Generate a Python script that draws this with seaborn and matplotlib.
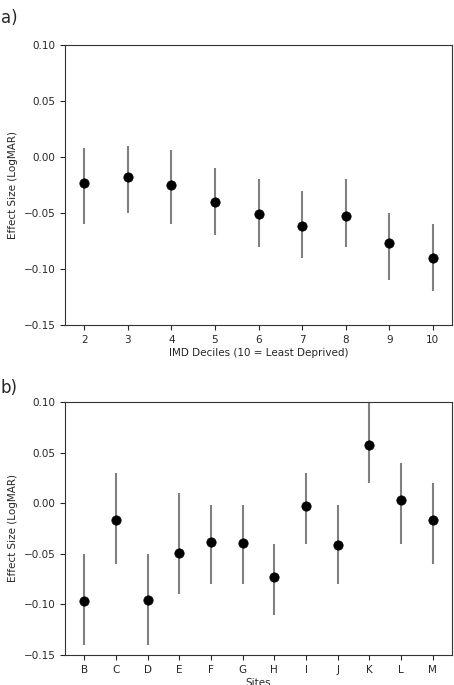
import matplotlib
matplotlib.use("Agg")
import matplotlib.pyplot as plt
import seaborn as sns
import numpy as np
import pandas as pd

deciles = ["2", "3", "4", "5", "6", "7", "8", "9", "10"]
dec_est = [-0.023, -0.018, -0.025, -0.040, -0.051, -0.062, -0.053, -0.077, -0.090]
dec_lo = [-0.060, -0.050, -0.060, -0.070, -0.080, -0.090, -0.080, -0.110, -0.120]
dec_hi = [0.008, 0.010, 0.006, -0.010, -0.020, -0.030, -0.020, -0.050, -0.060]

sites = ["B", "C", "D", "E", "F", "G", "H", "I", "J", "K", "L", "M"]
site_est = [-0.097, -0.017, -0.096, -0.049, -0.038, -0.039, -0.073, -0.003, -0.041, 0.058, 0.003, -0.017]
site_lo = [-0.140, -0.060, -0.140, -0.090, -0.080, -0.080, -0.110, -0.040, -0.080, 0.020, -0.040, -0.060]
site_hi = [-0.050, 0.030, -0.050, 0.010, -0.002, -0.002, -0.040, 0.030, -0.002, 0.105, 0.040, 0.020]

sns.set_style("ticks")
plt.rcParams['font.family'] = ['DejaVu Sans']

fig = plt.figure(figsize=(4.54, 6.85), dpi=100)
ax1 = fig.add_axes([65/454, 1-325/685, 387/454, 280/685])
ax2 = fig.add_axes([65/454, 1-655/685, 387/454, 253/685])

def panel(ax, cats, est, lo, hi, xlabel):
    df = pd.DataFrame({"cat": cats, "est": est, "lo": lo, "hi": hi})
    x = np.arange(len(cats))
    ax.vlines(x, df["lo"], df["hi"], color="grey", lw=1.5, zorder=1)
    sns.scatterplot(x=x, y=df["est"], ax=ax, color="black", s=45, edgecolor="black", zorder=2, legend=False)
    ax.set_xticks(x)
    ax.set_xticklabels(cats)
    n = len(cats) - 1
    pad = n * 0.055
    ax.set_xlim(-pad, n + pad)
    ax.set_ylim(-0.15, 0.10)
    ax.set_yticks([-0.15, -0.10, -0.05, 0.00, 0.05, 0.10])
    ax.set_yticklabels(["\u22120.15", "\u22120.10", "\u22120.05", "0.00", "0.05", "0.10"])
    ax.set_xlabel(xlabel, fontsize=7.5, labelpad=2)
    ax.set_ylabel("Effect Size (LogMAR)", fontsize=7.5)
    ax.tick_params(labelsize=7.5)
    for s in ax.spines.values():
        s.set_visible(True)
        s.set_color("#333333")

panel(ax1, deciles, dec_est, dec_lo, dec_hi, "IMD Deciles (10 = Least Deprived)")
panel(ax2, sites, site_est, site_lo, site_hi, "Sites")

fig.text(0.002, 1-18/685, "a)", fontsize=12, va="center")
fig.text(0.002, 1-388/685, "b)", fontsize=12, va="center")

fig.savefig("out.png", dpi=100)
